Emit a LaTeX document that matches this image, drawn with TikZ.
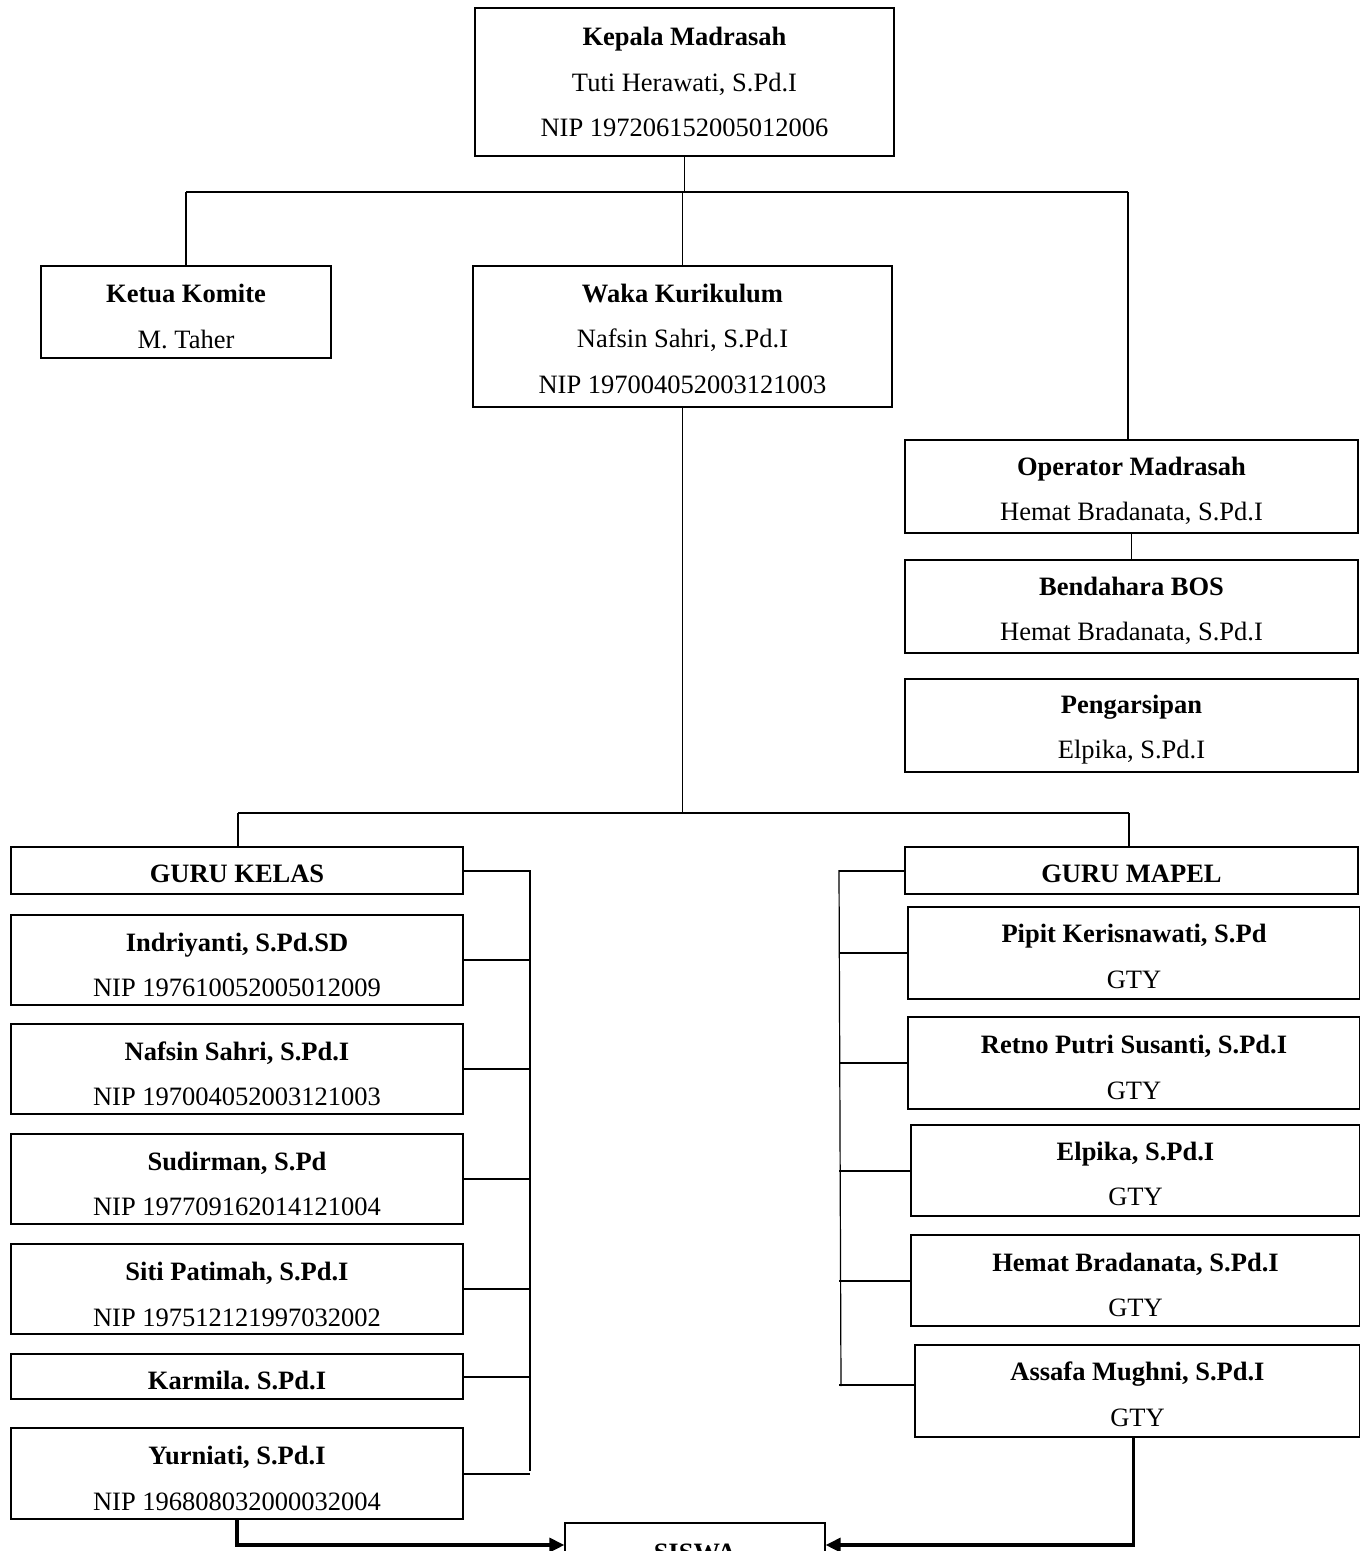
\documentclass[tikz,border=0pt]{standalone}
\usepackage{fontspec}
\setmainfont{Liberation Serif}
\usetikzlibrary{arrows.meta}
\newcommand\firstup[1][27pt]{\rule{0pt}{#1}}
\frenchspacing
\begin{document}
\begin{tikzpicture}[x=1pt,y=-1pt,
  box/.style={draw, line width=1.2pt, inner sep=0pt, align=center, font=\fontsize{26.5}{45.5}\selectfont},
  conn/.style={line width=1.2pt},
  tickline/.style={line width=2pt},
  arr/.style={line width=3.2pt, -{Triangle[length=15pt,width=14pt]}}]
\useasboundingbox (0,0) rectangle (1360,1551);
\clip (0,0) rectangle (1360,1551);
% top
\node[box, minimum width=419pt, minimum height=148pt] (kepala) at (684.5,82) {\textbf{Kepala Madrasah}\\Tuti Herawati, S.Pd.I\\NIP 197206152005012006};
\node[box, minimum width=290pt, minimum height=92pt] (ketua) at (186,312) {\firstup\textbf{Ketua Komite}\\M. Taher};
\node[box, minimum width=419pt, minimum height=141pt] (waka) at (682.5,336.5) {\firstup[23pt]\textbf{Waka Kurikulum}\\Nafsin Sahri, S.Pd.I\\NIP 197004052003121003};
\node[box, minimum width=453pt, minimum height=93pt] (operator) at (1131.5,486.5) {\firstup\textbf{Operator Madrasah}\\Hemat Bradanata, S.Pd.I};
\node[box, minimum width=453pt, minimum height=93pt] (bendahara) at (1131.5,606.5) {\firstup\textbf{Bendahara BOS}\\Hemat Bradanata, S.Pd.I};
\node[box, minimum width=453pt, minimum height=93pt] (arsip) at (1131.5,725.5) {\firstup\textbf{Pengarsipan}\\Elpika, S.Pd.I};
% guru kelas
\node[box, minimum width=452pt, minimum height=47pt] (gk) at (237,870.5) {\firstup[25pt]\textbf{GURU KELAS}};
\node[box, minimum width=452pt, minimum height=90pt] (indri) at (237,960) {\firstup[28pt]\textbf{Indriyanti, S.Pd.SD}\\NIP 197610052005012009};
\node[box, minimum width=452pt, minimum height=90pt] (nafsin) at (237,1069) {\firstup[28pt]\textbf{Nafsin Sahri, S.Pd.I}\\NIP 197004052003121003};
\node[box, minimum width=452pt, minimum height=90pt] (sudir) at (237,1179) {\firstup[28pt]\textbf{Sudirman, S.Pd}\\NIP 197709162014121004};
\node[box, minimum width=452pt, minimum height=90pt] (siti) at (237,1289) {\firstup[29pt]\textbf{Siti Patimah, S.Pd.I}\\NIP 197512121997032002};
\node[box, minimum width=452pt, minimum height=45pt] (karmila) at (237,1376.5) {\firstup\textbf{Karmila. S.Pd.I}};
\node[box, minimum width=452pt, minimum height=91pt] (yurni) at (237,1473.5) {\firstup[28pt]\textbf{Yurniati, S.Pd.I}\\NIP 196808032000032004};
% guru mapel
\node[box, minimum width=453pt, minimum height=47pt] (gm) at (1131.5,870.5) {\firstup[25pt]\textbf{GURU MAPEL}};
\node[box, minimum width=452pt, minimum height=92pt] (pipit) at (1134,953) {\firstup[25pt]\textbf{Pipit Kerisnawati, S.Pd}\\GTY};
\node[box, minimum width=452pt, minimum height=92pt] (retno) at (1134,1063) {\firstup\textbf{Retno Putri Susanti, S.Pd.I}\\GTY};
\node[box, minimum width=449pt, minimum height=91pt] (elpika) at (1135.5,1170.5) {\firstup[25pt]\textbf{Elpika, S.Pd.I}\\GTY};
\node[box, minimum width=449pt, minimum height=91pt] (hemat) at (1135.5,1280.5) {\firstup\textbf{Hemat Bradanata, S.Pd.I}\\GTY};
\node[box, minimum width=445pt, minimum height=92pt] (assafa) at (1137.5,1391) {\firstup[25pt]\textbf{Assafa Mughni, S.Pd.I}\\GTY};
% siswa
\node[box, minimum width=260pt, minimum height=60pt] (siswa) at (695,1553) {\textbf{SISWA}};
% top connectors
\coordinate (t1) at (186,192);
\coordinate (t2) at (1128,192);
\draw[conn] (kepala.south) -- (kepala.south |- t1);
\draw[conn] (t1) -- (t2);
\draw[conn] (t1) -- (ketua.north);
\draw[conn] (waka.north) -- (waka.north |- t1);
\draw[conn] (t2) -- (t2 |- operator.north);
\draw[conn] (operator.south) -- (bendahara.north);
% middle connectors
\coordinate (m1) at (238,813);
\coordinate (m2) at (1129,813);
\draw[conn] (waka.south) -- (waka.south |- m1);
\draw[conn] (m1) -- (m2);
\draw[conn] (m1) -- (m1 |- gk.north);
\draw[conn] (m2) -- (m2 |- gm.north);
% left bracket
\coordinate (lb) at (530,870);
\draw[conn] (lb) -- (530,1471);
\foreach \n in {gk,indri,nafsin,sudir,siti,karmila,yurni}
  \draw[tickline] (\n.east) -- (\n.east -| lb);
% right bracket
\coordinate (rb) at (839,870);
\draw[conn] (rb) -- (841,1386);
\foreach \n in {gm,pipit,retno,elpika,hemat}
  \draw[tickline] (\n.west) -- (\n.west -| rb);
\draw[tickline] ([yshift=6pt]assafa.west) -- ([yshift=6pt]assafa.west -| rb);
% arrows to SISWA
\draw[arr] (yurni.south) |- ([yshift=8pt]siswa.west);
\draw[arr] ([xshift=-4pt]assafa.south) |- ([yshift=8pt]siswa.east);
\end{tikzpicture}
\end{document}
